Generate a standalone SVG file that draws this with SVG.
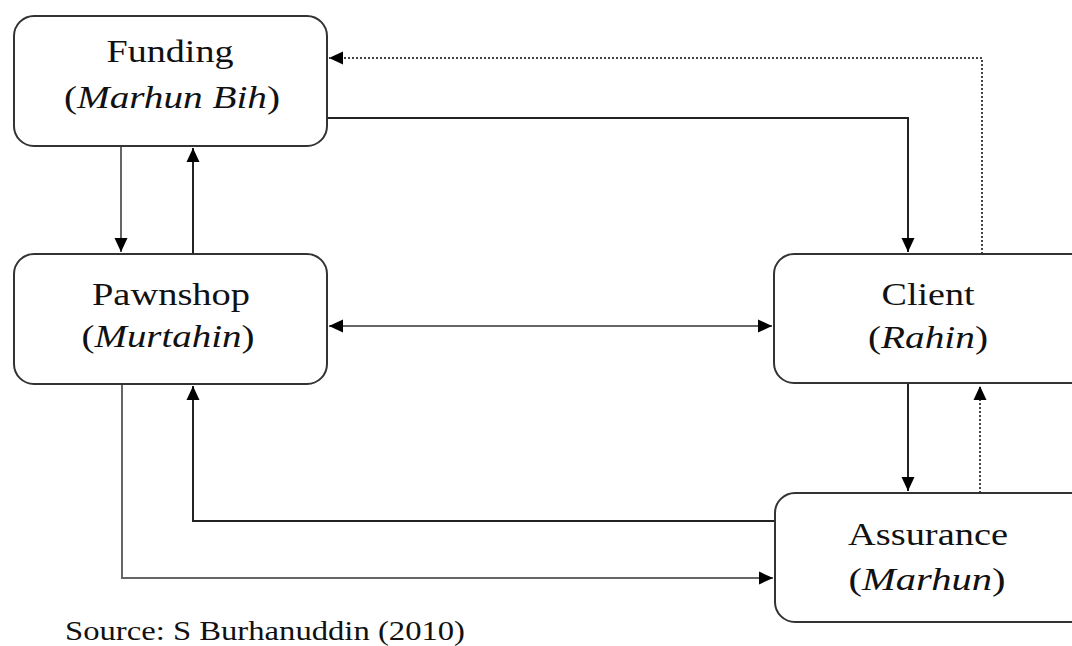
<svg xmlns="http://www.w3.org/2000/svg" width="1072" height="646" viewBox="0 0 1072 646">
<style>
.box{fill:#fff;stroke:#333;stroke-width:2}
.t{font-family:'Liberation Serif',serif;font-size:32px;fill:#111;text-anchor:middle}
.i{font-style:italic}
.c{fill:none;stroke:#222;stroke-width:2}
.g{fill:none;stroke:#666;stroke-width:2}
.d{fill:none;stroke:#444;stroke-width:2;stroke-dasharray:2 2}
</style>
<defs>
<marker id="a" viewBox="0 0 14 14" refX="14" refY="7" markerWidth="7" markerHeight="7" orient="auto"><path d="M0,0.5 L14,7 L0,13.5 z" fill="#000"/></marker>
<marker id="b" viewBox="0 0 14 14" refX="14" refY="7" markerWidth="7" markerHeight="7" orient="auto-start-reverse"><path d="M0,0.5 L14,7 L0,13.5 z" fill="#000"/></marker>
</defs>
<g id="connectors">
<path class="d" d="M982,254 V58 H329" marker-end="url(#a)"/>
<path class="c" d="M327,118 H908 V252" marker-end="url(#a)"/>
<path class="g" d="M121,146 V252" marker-end="url(#a)"/>
<path class="c" d="M193,254 V148" marker-end="url(#a)"/>
<path class="g" d="M329,326 H772" marker-start="url(#b)" marker-end="url(#a)"/>
<path class="c" d="M908,384 V491" marker-end="url(#a)"/>
<path class="d" d="M980,493 V386" marker-end="url(#a)"/>
<path class="c" d="M775,521 H193 V386" marker-end="url(#a)"/>
<path class="g" d="M122,384 V578 H773" marker-end="url(#a)"/>
</g>
<g id="funding">
<rect class="box" x="14" y="16" width="313" height="130" rx="20"/>
<text class="t" x="170" y="62" textLength="127" lengthAdjust="spacingAndGlyphs">Funding</text>
<text class="t" x="172" y="108" textLength="216" lengthAdjust="spacingAndGlyphs">(<tspan class="i">Marhun Bih</tspan>)</text>
</g>
<g id="pawnshop">
<rect class="box" x="14" y="254" width="313" height="130" rx="20"/>
<text class="t" x="171" y="305" textLength="158" lengthAdjust="spacingAndGlyphs">Pawnshop</text>
<text class="t" x="168" y="347" textLength="173" lengthAdjust="spacingAndGlyphs">(<tspan class="i">Murtahin</tspan>)</text>
</g>
<g id="client">
<rect class="box" x="774" y="254" width="320" height="129" rx="20"/>
<text class="t" x="928" y="305" textLength="93" lengthAdjust="spacingAndGlyphs">Client</text>
<text class="t" x="928" y="348" textLength="120" lengthAdjust="spacingAndGlyphs">(<tspan class="i">Rahin</tspan>)</text>
</g>
<g id="assurance">
<rect class="box" x="775" y="493" width="320" height="129" rx="20"/>
<text class="t" x="928" y="545" textLength="160" lengthAdjust="spacingAndGlyphs">Assurance</text>
<text class="t" x="927" y="590" textLength="157" lengthAdjust="spacingAndGlyphs">(<tspan class="i">Marhun</tspan>)</text>
</g>
<text x="65" y="640" font-family="'Liberation Serif', serif" font-size="27" fill="#111" textLength="400" lengthAdjust="spacingAndGlyphs">Source: S Burhanuddin (2010)</text>
</svg>
